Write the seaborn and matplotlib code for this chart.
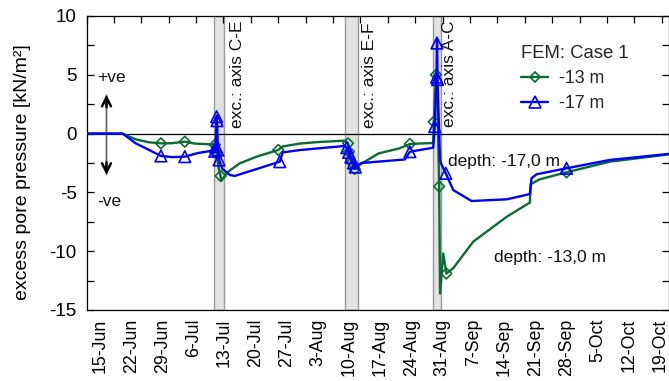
import matplotlib
matplotlib.use("Agg")
import matplotlib.pyplot as plt
import matplotlib.dates as mdates
from matplotlib.lines import Line2D
from matplotlib.ticker import MultipleLocator, FuncFormatter, NullFormatter
import numpy as np
import pandas as pd
import seaborn as sns

# ---- FEM Case 1: excess pore pressure [kN/m²] at two depths ----
green_time = [
    "2009-06-11 22:00", "2009-06-20 01:00", "2009-06-23 00:00", "2009-06-26 00:00",
    "2009-06-28 16:00", "2009-07-01 00:00", "2009-07-04 01:00", "2009-07-06 07:00",
    "2009-07-10 07:00", "2009-07-10 19:00", "2009-07-11 05:00", "2009-07-11 17:00",
    "2009-07-12 02:00", "2009-07-12 07:00", "2009-07-13 19:00", "2009-07-16 10:00",
    "2009-07-20 05:00", "2009-07-25 02:00", "2009-07-26 00:00", "2009-07-29 22:00",
    "2009-08-03 00:00", "2009-08-09 02:00", "2009-08-09 19:00", "2009-08-10 00:00",
    "2009-08-10 14:00", "2009-08-11 07:00", "2009-08-12 14:00", "2009-08-16 17:00",
    "2009-08-21 10:00", "2009-08-23 17:00", "2009-08-28 23:00", "2009-08-29 02:00",
    "2009-08-29 14:00", "2009-08-29 19:00", "2009-08-30 07:00", "2009-08-30 12:00",
    "2009-08-31 05:00", "2009-08-31 22:00", "2009-09-02 11:00", "2009-09-06 23:00",
    "2009-09-14 12:00", "2009-09-19 17:00", "2009-09-19 22:00", "2009-09-21 22:00",
    "2009-09-27 23:00", "2009-10-07 17:00", "2009-10-20 22:00",
]
green_kpa = [
    0.0, 0.0, -0.49, -0.74,
    -0.83, -0.82, -0.69, -0.85,
    -0.92, -0.95, -1.70, -3.00,
    -3.60, -4.00, -3.24, -2.53,
    -1.96, -1.39, -1.10, -0.85,
    -0.72, -0.60, -0.83, -1.54,
    -2.47, -3.00, -2.60, -1.68,
    -1.25, -0.88, -0.80, 1.00,
    5.00, 5.20, -4.50, -13.60,
    -10.20, -11.90, -11.45, -9.19,
    -7.07, -5.87, -4.30, -3.89,
    -3.29, -2.39, -1.77,
]
green_marked = [
    0, 0, 0, 0,
    1, 0, 1, 0,
    0, 1, 1, 0,
    1, 0, 0, 0,
    0, 1, 0, 0,
    0, 0, 1, 1,
    1, 1, 0, 0,
    0, 1, 0, 1,
    1, 0, 1, 0,
    0, 1, 0, 0,
    0, 0, 0, 0,
    1, 0, 0,
]

blue_time = [
    "2009-06-11 22:00", "2009-06-20 01:00", "2009-06-23 00:00", "2009-06-26 00:00",
    "2009-06-28 16:00", "2009-07-01 07:00", "2009-07-04 01:00", "2009-07-07 00:00",
    "2009-07-10 07:00", "2009-07-10 19:00", "2009-07-11 00:00", "2009-07-11 05:00",
    "2009-07-11 07:00", "2009-07-11 12:00", "2009-07-11 18:00", "2009-07-12 12:00",
    "2009-07-14 05:00", "2009-07-15 07:00", "2009-07-25 10:00", "2009-07-26 02:00",
    "2009-07-29 22:00", "2009-08-09 02:00", "2009-08-09 12:00", "2009-08-09 22:00",
    "2009-08-10 10:00", "2009-08-11 00:00", "2009-08-11 10:00", "2009-08-12 19:00",
    "2009-08-22 14:00", "2009-08-23 17:00", "2009-08-28 23:00", "2009-08-29 07:00",
    "2009-08-29 17:00", "2009-08-29 19:00", "2009-08-29 20:00", "2009-08-29 22:00",
    "2009-08-30 12:00", "2009-08-30 19:00", "2009-08-31 19:00", "2009-09-02 11:00",
    "2009-09-06 14:00", "2009-09-14 12:00", "2009-09-19 17:00", "2009-09-20 02:00",
    "2009-09-21 05:00", "2009-09-27 23:00", "2009-10-07 17:00", "2009-10-20 22:00",
]
blue_kpa = [
    0.0, 0.0, -0.83, -1.39,
    -1.90, -2.00, -1.96, -1.65,
    -1.45, -1.50, -1.10, 1.44,
    1.10, -1.40, -2.24, -3.00,
    -3.52, -3.60, -2.39, -1.60,
    -1.40, -1.05, -1.20, -1.60,
    -2.00, -2.50, -2.85, -2.50,
    -2.20, -1.54, -1.20, 0.60,
    4.80, 7.70, 8.00, 4.60,
    -2.30, -2.60, -3.38, -4.80,
    -5.73, -5.59, -5.14, -3.80,
    -3.46, -2.95, -2.24, -1.73,
]
blue_marked = [
    0, 0, 0, 0,
    1, 0, 1, 0,
    0, 1, 1, 1,
    1, 1, 1, 0,
    0, 0, 1, 0,
    0, 0, 1, 1,
    1, 1, 1, 0,
    0, 1, 0, 1,
    1, 1, 0, 1,
    0, 0, 1, 0,
    0, 0, 0, 0,
    0, 1, 0, 0,
]

# excavation stages (start, end, label)
exc_start = ["2009-07-10 16:00", "2009-08-09 05:00", "2009-08-28 23:00"]
exc_end = ["2009-07-12 22:00", "2009-08-12 02:00", "2009-08-30 17:00"]
exc_label = ["exc.: axis C-E", "exc.: axis E-F", "exc.: axis A-C"]
exc_label_x = ["2009-07-15 22:00", "2009-08-14 17:00", "2009-09-01 17:00"]
exc_label_y = [0.48, 0.48, 0.56]

week_ticks = pd.date_range("2009-06-15", "2009-10-19", freq="7D")
x_left, x_right = pd.Timestamp("2009-06-11 22:00"), pd.Timestamp("2009-10-20 22:00")

GREEN = "#0b6b34"
BLUE = "#0000ff"

sns.set_theme(style="white")
plt.rcParams["font.family"] = ["Liberation Sans", "DejaVu Sans"]
plt.rcParams["axes.unicode_minus"] = False

fig = plt.figure(figsize=(6.69, 3.81), dpi=100)
ax = fig.add_axes([86.5 / 669, 71 / 381, 582 / 669, 294 / 381])

# excavation bands
for s, e in zip(exc_start, exc_end):
    ax.axvspan(pd.Timestamp(s), pd.Timestamp(e), facecolor="#e2e2e2",
               edgecolor="#9a9a9a", lw=1.0, zorder=0)
for lbl, lx, ly in zip(exc_label, exc_label_x, exc_label_y):
    ax.text(pd.Timestamp(lx), ly, lbl, rotation=90, ha="center", va="bottom",
            fontsize=12.5, color="#111111", zorder=5)

ax.axhline(0, color="black", lw=0.9, zorder=1)

df_g = pd.DataFrame({"time": pd.to_datetime(green_time), "kpa": green_kpa,
                     "marked": np.array(green_marked, dtype=bool)})
df_b = pd.DataFrame({"time": pd.to_datetime(blue_time), "kpa": blue_kpa,
                     "marked": np.array(blue_marked, dtype=bool)})

sns.lineplot(data=df_g, x="time", y="kpa", color=GREEN, lw=1.7, sort=False,
             estimator=None, ax=ax, zorder=3)
sns.lineplot(data=df_b, x="time", y="kpa", color=BLUE, lw=1.7, sort=False,
             estimator=None, ax=ax, zorder=4)
sns.scatterplot(data=df_g[df_g["marked"]], x="time", y="kpa", marker="D", s=30,
                color=GREEN, facecolor="none", edgecolor=GREEN, linewidth=1.2,
                ax=ax, zorder=3)
sns.scatterplot(data=df_b[df_b["marked"]], x="time", y="kpa", marker="^", s=70,
                color=BLUE, facecolor="none", edgecolor=BLUE, linewidth=1.2,
                ax=ax, zorder=4)

# axes
ax.set_xlim(x_left, x_right)
ax.set_ylim(-15, 10)
ax.yaxis.set_major_locator(MultipleLocator(5))
ax.yaxis.set_minor_locator(MultipleLocator(2.5))
ax.set_xticks(week_ticks)
ax.xaxis.set_major_formatter(FuncFormatter(
    lambda v, p: (lambda d: f"{d.day}-{d.strftime('%b')}")(mdates.num2date(v))))
ax.tick_params(axis="x", which="major", direction="in", length=5, width=0.9,
               labelsize=12.8, rotation=90, pad=6, top=False, colors="black")
ax.tick_params(axis="y", which="both", direction="in", length=5, width=0.9,
               labelsize=13.5, pad=7, left=True, right=True, labelright=False,
               colors="black")
ax.tick_params(axis="y", which="minor", labelleft=False)
for sp in ax.spines.values():
    sp.set_color("black")
    sp.set_linewidth(0.9)

top = ax.secondary_xaxis("top")
x0 = mdates.date2num(x_left)
top.set_xticks(x0 + 6.167 * np.arange(22))
top.xaxis.set_major_formatter(NullFormatter())
top.tick_params(direction="in", length=5, width=0.9, colors="black")
top.spines["top"].set_visible(False)

ax.set_xlabel("")
ax.set_ylabel("excess pore pressure [kN/m²]", fontsize=14, color="black",
              labelpad=5)
ax.yaxis.set_label_coords(-0.096, 0.47)

# sign indicator
arrow_x = pd.Timestamp("2009-06-16 10:00")
ax.annotate("", xy=(arrow_x, 3.5), xytext=(arrow_x, -3.7),
            arrowprops=dict(arrowstyle="-", color="#666666", lw=1.3))
ax.annotate("", xy=(arrow_x, 3.55), xytext=(arrow_x, 2.0),
            arrowprops=dict(arrowstyle="->", color="black", lw=1.8,
                            mutation_scale=16))
ax.annotate("", xy=(arrow_x, -3.75), xytext=(arrow_x, -2.2),
            arrowprops=dict(arrowstyle="->", color="black", lw=1.8,
                            mutation_scale=16))
ax.text(pd.Timestamp("2009-06-14 06:00"), 4.8, "+ve", fontsize=12.5,
        ha="left", va="center", color="#111111")
ax.text(pd.Timestamp("2009-06-14 06:00"), -5.8, "-ve", fontsize=12.5,
        ha="left", va="center", color="#111111")

ax.text(pd.Timestamp("2009-09-01 06:00"), -2.4, "depth: -17,0 m", fontsize=12.5,
        ha="left", va="center", color="#111111", zorder=6)
ax.text(pd.Timestamp("2009-09-11 14:00"), -10.5, "depth: -13,0 m", fontsize=12.5,
        ha="left", va="center", color="#111111", zorder=6)

handles = [
    Line2D([], [], color=GREEN, lw=1.7, marker="D", ms=5.5, mfc="none",
           mec=GREEN, mew=1.2),
    Line2D([], [], color=BLUE, lw=1.7, marker="^", ms=8.4, mfc="none",
           mec=BLUE, mew=1.2),
]
ax.legend(handles, ["-13 m", "-17 m"], title="FEM: Case 1", frameon=False,
          loc="upper left", bbox_to_anchor=(0.735, 0.925), fontsize=12.8,
          title_fontsize=13.3, alignment="left", handlelength=1.5,
          handletextpad=0.6, labelspacing=0.45, borderaxespad=0.0)

fig.savefig("out.png", dpi=100)
